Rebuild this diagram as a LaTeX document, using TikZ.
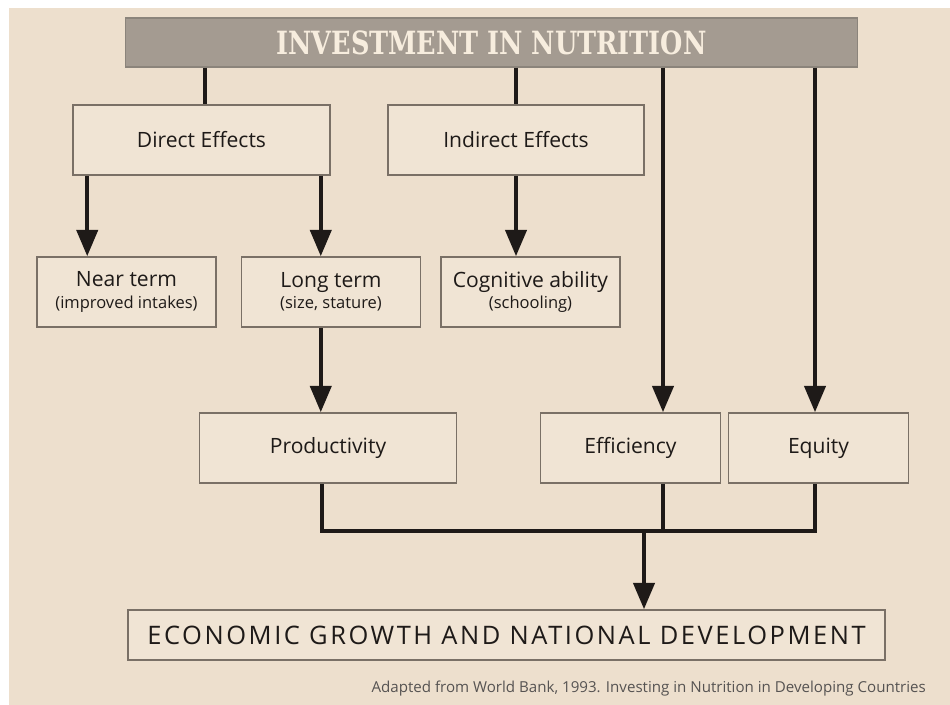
\documentclass[tikz,border=0pt]{standalone}
\usepackage{fontspec}
\setmainfont{Open Sans}
\newfontfamily\slabfont{DejaVu Serif}[FakeStretch=0.8]
\newfontfamily\spacedfont{Open Sans}[LetterSpace=10]
\usepackage{tikz}
\usetikzlibrary{arrows.meta}

\definecolor{paper}{RGB}{237,223,205}
\definecolor{boxfill}{RGB}{240,228,212}
\definecolor{bargray}{RGB}{164,155,145}
\definecolor{edgegray}{RGB}{122,112,102}
\definecolor{cream}{RGB}{247,237,222}
\definecolor{ink}{RGB}{30,26,24}

\tikzset{
  box/.style={draw=edgegray, line width=0.9pt, fill=boxfill, text=ink,
    align=center, inner sep=0pt, font=\fontsize{12}{14}\selectfont},
  titlebar/.style={draw=bargray!85!black, line width=0.6pt, fill=bargray,
    text=cream, minimum width=14.66cm, minimum height=0.98cm,
    font=\slabfont\bfseries\fontsize{18.2}{20}\selectfont},
  flow/.style={line width=2.3pt, ink, ->},
  link/.style={line width=2.3pt, ink},
}
\newcommand{\smallnote}[1]{{\fontsize{9.4}{11}\selectfont #1}}

\begin{document}
\begin{tikzpicture}[x=0.02cm, y=-0.02cm, >={Triangle[length=15pt,width=12pt]}]
	\useasboundingbox (0,0) rectangle (950,705);
	\fill[paper] (9,8) rectangle (950,705);

	% header and boxes
	\node[titlebar] (invest) at (491.5,42.5) {INVESTMENT IN NUTRITION};
	\node[box, minimum width=5.14cm, minimum height=1.4cm] (direct) at (201.5,140) {Direct Effects};
	\node[box, minimum width=5.12cm, minimum height=1.4cm] (indirect) at (516,140) {Indirect Effects};
	\node[box, minimum width=3.58cm, minimum height=1.4cm] (near) at (126.5,292)
		{Near term\\[-2pt]\smallnote{(improved intakes)}};
	\node[box, minimum width=3.58cm, minimum height=1.4cm] (long) at (331,292)
		{Long term\\[-2pt]\smallnote{(size, stature)}};
	\node[box, minimum width=3.58cm, minimum height=1.4cm] (cognitive) at (530.5,292)
		{Cognitive ability\\[-2pt]\smallnote{(schooling)}};
	\node[box, minimum width=5.14cm, minimum height=1.4cm] (product) at (328,448) {Productivity};
	\node[box, minimum width=3.6cm, minimum height=1.4cm] (efficiency) at (630.5,448) {Efficiency};
	\node[box, minimum width=3.6cm, minimum height=1.4cm] (equity) at (818.5,448) {Equity};
	\node[box, minimum width=15.14cm, minimum height=1.0cm, font=\spacedfont\fontsize{14.5}{16}\selectfont]
		(growth) at (506.5,635) {ECONOMIC GROWTH AND NATIONAL DEVELOPMENT};
	\node[anchor=base east, text=ink!75, font=\fontsize{8.6}{10}\selectfont] (source) at (932,692)
		{Adapted from World Bank, 1993. Investing in Nutrition in Developing Countries};

	% lane points
	\coordinate (directin) at ([xshift=0.07cm]direct.north);
	\coordinate (nearin) at ([xshift=0.3cm]direct.south west);
	\coordinate (longin) at ([xshift=-0.2cm]direct.south east);
	\coordinate (effin) at ([xshift=0.65cm]efficiency.north);
	\coordinate (effout) at ([xshift=0.65cm]efficiency.south);
	\coordinate (eqin) at ([xshift=-0.07cm]equity.north);
	\coordinate (eqout) at ([xshift=-0.07cm]equity.south);
	\coordinate (prodout) at ([xshift=-0.12cm]product.south);
	\coordinate (merge) at (644,531);

	% from the header
	\draw[link] (invest.south -| directin) -- (directin);
	\draw[link] (invest.south -| indirect.north) -- (indirect.north);
	\draw[flow] (invest.south -| effin) -- (effin);
	\draw[flow] (invest.south -| eqin) -- (eqin);

	% effects
	\draw[flow] (nearin) -- (nearin |- near.north);
	\draw[flow] (longin) -- (longin |- long.north);
	\draw[flow] (indirect.south) -- (indirect.south |- cognitive.north);
	\draw[flow] (long.south -| longin) -- (longin |- product.north);

	% joining into growth
	\draw[link] (prodout) -- (prodout |- merge) -- (eqout |- merge) -- (eqout);
	\draw[link] (effout) -- (effout |- merge);
	\draw[flow] (merge) -- (merge |- growth.north);
\end{tikzpicture}
\end{document}
